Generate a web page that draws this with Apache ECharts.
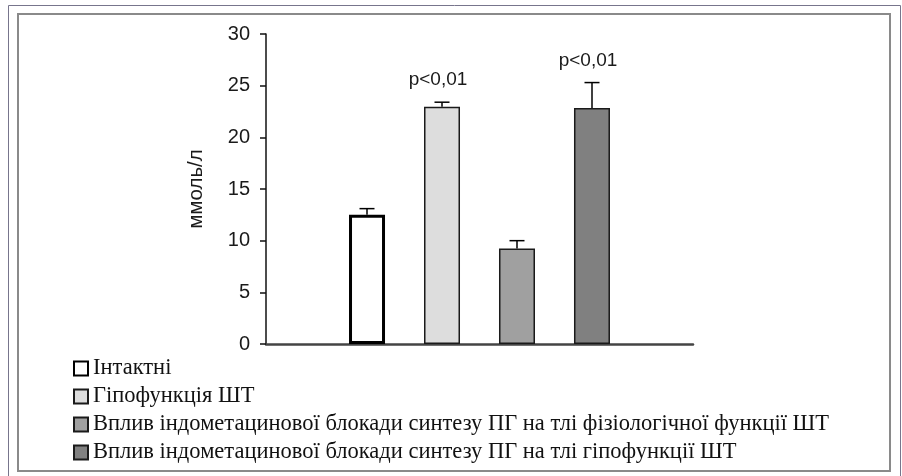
<!DOCTYPE html>
<html>
<head>
<meta charset="utf-8">
<script src="https://cdn.jsdelivr.net/npm/echarts@6/dist/echarts.min.js"></script>
<style>html,body{margin:0;padding:0;background:#fff;}#chart{width:902px;height:476px;}</style>
</head>
<body>
<div id="chart"></div>
<script>
const categories = [''];
const seriesNames = [
  'Інтактні',
  'Гіпофункція ШТ',
  'Вплив індометацинової блокади синтезу ПГ на тлі фізіологічної функції ШТ',
  'Вплив індометацинової блокади синтезу ПГ на тлі гіпофункції ШТ'
];
const means = [12.5, 22.95, 9.25, 22.85];
const errors = [0.6, 0.45, 0.75, 2.45];
const pLabels = ['', 'p<0,01', '', 'p<0,01'];
const yTicks = [0, 5, 10, 15, 20, 25, 30];

const fills = ['#ffffff', '#dddddd', '#a0a0a0', '#808080'];
const borders = ['#000000', '#1a1a1a', '#1a1a1a', '#1a1a1a'];
const borderWidths = [3, 1.5, 1.5, 1.5];
const BAR_W = 36, BAR_GAP = 39;

const chart = echarts.init(document.getElementById('chart'));

const barSeries = seriesNames.map((name, i) => ({
  name: name,
  type: 'bar',
  data: [means[i]],
  barWidth: BAR_W,
  barGap: (BAR_GAP / BAR_W * 100).toFixed(1) + '%',
  itemStyle: { color: fills[i], borderColor: borders[i], borderWidth: borderWidths[i] },
  emphasis: { disabled: true },
  silent: true,
  z: 2
}));

const errData = means.map((m, i) => [0, m, m + errors[i], i]);

const errSeries = {
  type: 'custom',
  silent: true,
  z: 5,
  data: errData,
  encode: { x: 0, y: 2 },
  renderItem: function (params, api) {
    const idx = api.value(3);
    const top = api.coord([0, api.value(2)]);
    const mid = api.coord([0, api.value(1)]);
    const x = top[0] + (idx - 1.5) * (BAR_W + BAR_GAP);
    const children = [
      { type: 'line', shape: { x1: x, y1: mid[1], x2: x, y2: top[1] }, style: { stroke: '#000', lineWidth: 1.5 } },
      { type: 'line', shape: { x1: x - 7.5, y1: top[1], x2: x + 7.5, y2: top[1] }, style: { stroke: '#000', lineWidth: 1.5 } }
    ];
    const t = pLabels[idx];
    if (t) {
      children.push({
        type: 'text',
        style: {
          text: t, x: x - 4, y: top[1] - 22,
          align: 'center', verticalAlign: 'middle',
          font: '19px "Liberation Sans", Arial, sans-serif', fill: '#1a1a1a'
        }
      });
    }
    return { type: 'group', children: children };
  }
};

chart.setOption({
  animation: false,
  backgroundColor: '#fff',
  graphic: [
    { type: 'rect', shape: { x: 8.5, y: 5.5, width: 892, height: 480 }, style: { fill: 'none', stroke: '#77758c', lineWidth: 1 }, z: -1 },
    { type: 'rect', shape: { x: 18, y: 14, width: 872, height: 457 }, style: { fill: 'none', stroke: '#8a8a8a', lineWidth: 2 }, z: -1 }
  ],
  grid: { left: 266, right: 209, top: 34, bottom: 132, containLabel: false },
  legend: {
    data: seriesNames,
    orient: 'vertical',
    left: 73,
    top: 357,
    padding: 0,
    itemWidth: 14,
    itemHeight: 14,
    itemGap: 5,
    icon: 'rect',
    selectedMode: false,
    textStyle: { fontFamily: '"Liberation Serif", "DejaVu Serif", serif', fontSize: 22.5, lineHeight: 22, color: '#111' }
  },
  xAxis: {
    type: 'category',
    data: categories,
    axisLine: { show: true, lineStyle: { color: '#444', width: 2.5 } },
    axisTick: { show: false },
    axisLabel: { show: false },
    splitLine: { show: false }
  },
  yAxis: {
    type: 'value',
    min: yTicks[0],
    max: yTicks[yTicks.length - 1],
    interval: 5,
    name: 'ммоль/л',
    nameLocation: 'middle',
    nameGap: 59,
    nameRotate: 90,
    nameTextStyle: { fontFamily: '"Liberation Sans", Arial, sans-serif', fontSize: 20.5, color: '#1a1a1a' },
    axisLine: { show: true, lineStyle: { color: '#111', width: 1.5 } },
    axisTick: { show: true, inside: false, length: 6, lineStyle: { color: '#111', width: 1.5 } },
    axisLabel: { margin: 16, fontFamily: '"Liberation Sans", Arial, sans-serif', fontSize: 20, color: '#1a1a1a' },
    splitLine: { show: false }
  },
  series: barSeries.concat([errSeries])
});
</script>
</body>
</html>
